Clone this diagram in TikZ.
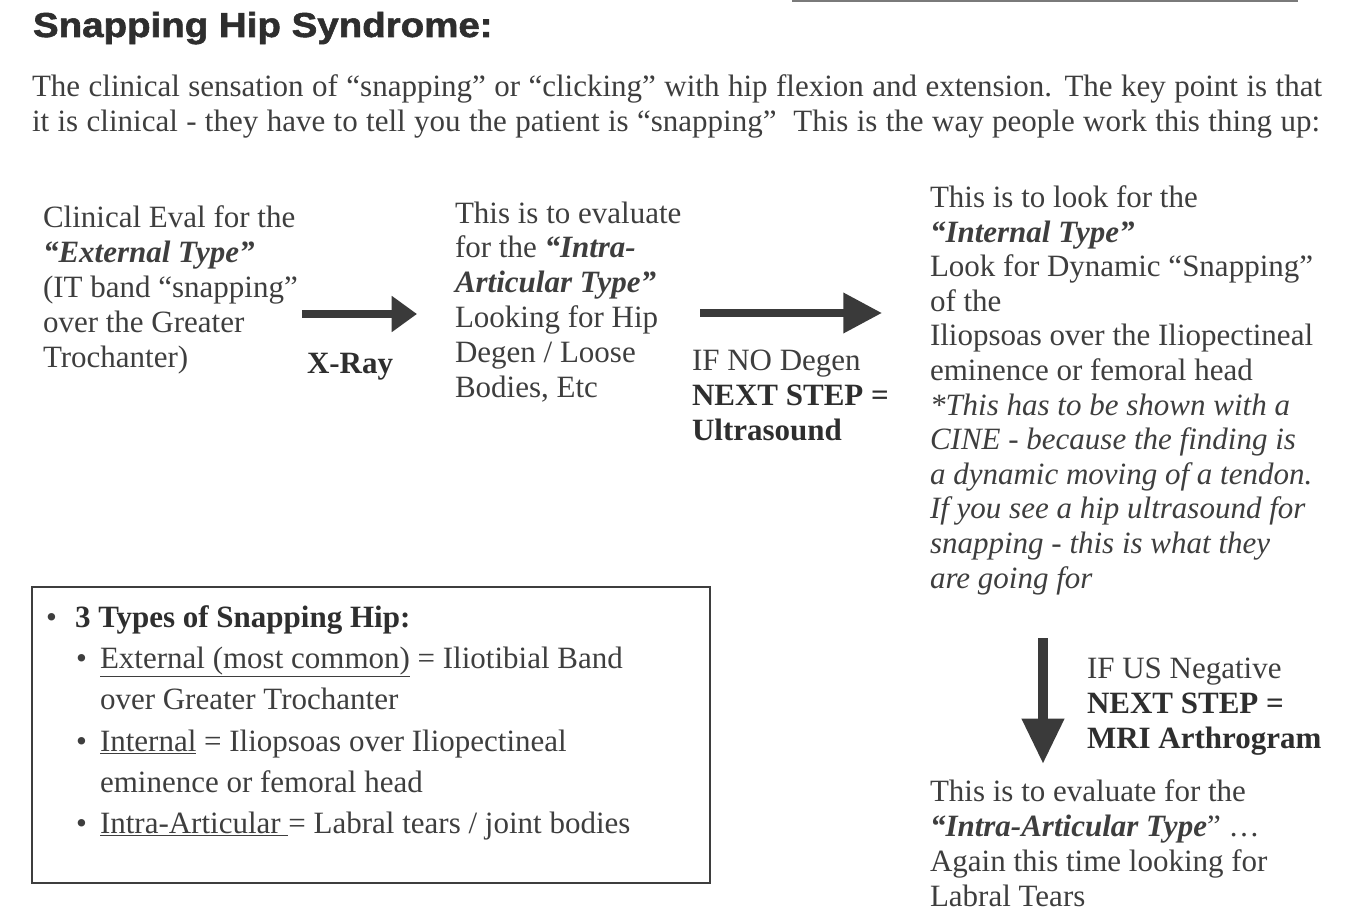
\documentclass[tikz,border=0pt]{standalone}
\usepackage{fontspec}
\setmainfont{Liberation Serif}
\newfontfamily\titlefont[BoldFeatures={FakeBold=1.6}]{Liberation Sans}
\usetikzlibrary{arrows.meta}
\definecolor{ink}{HTML}{3E3E3E}
\definecolor{inkdark}{HTML}{2E2E2E}
\definecolor{arrowgray}{HTML}{3A3A3A}
\definecolor{rulegray}{HTML}{7A7A7A}
\begin{document}
\begin{tikzpicture}[x=0.75pt,y=-0.75pt,
  txt/.style={anchor=base west, inner sep=0pt, outer sep=0pt, align=left, text=ink,
    font=\fontsize{23.25}{26.1}\selectfont},
  boxtxt/.style={txt, font=\fontsize{23.25}{30.75}\selectfont},
  bigarrow/.style={draw=arrowgray, line width=6pt},
  framebox/.style={draw=ink, line width=1.5pt}
]
\useasboundingbox (0,0) rectangle (1353,924);

% top rule (cropped element)
\draw[rulegray, line width=1.2pt] (792,1) -- (1298,1);

% title
\node[txt, text=inkdark, font=\titlefont\bfseries\fontsize{26}{30}\selectfont] (title) at (33,37)
  {\scalebox{1.11}[1]{Snapping Hip Syndrome:}};

% intro paragraph
\node[txt] (p1) at (32,97)
  {\makebox[967.5pt][s]{The clinical sensation of “snapping” or “clicking” with hip flexion and extension. The key point is that}};
\node[txt] (p2) at (32,132)
  {\makebox[966pt][s]{it is clinical - they have to tell you the patient is “snapping”\ \ This is the way people work this thing up:}};

% (multi-line nodes: base anchor sits on the LAST line's baseline)
% block A
\node[txt] (A) at (43,367) {Clinical Eval for the\\
\textbf{\textit{“External Type”}}\\
(IT band “snapping”\\
over the Greater\\
Trochanter)};

% block B
\node[txt] (B) at (455,397) {This is to evaluate\\
for the \textbf{\textit{“Intra-}}\\
\textbf{\textit{Articular Type”}}\\
Looking for Hip\\
Degen / Loose\\
Bodies, Etc};

% block C
\node[txt, font=\fontsize{23.25}{25.95}\selectfont] (C) at (930,588) {This is to look for the\\
\textbf{\textit{“Internal Type”}}\\
Look for Dynamic “Snapping”\\
of the\\
Iliopsoas over the Iliopectineal\\
eminence or femoral head\\
\textit{*This has to be shown with a}\\
\textit{CINE - because the finding is}\\
\textit{a dynamic moving of a tendon.}\\
\textit{If you see a hip ultrasound for}\\
\textit{snapping - this is what they}\\
\textit{are going for}};

% block D
\node[txt] (D) at (930,906) {This is to evaluate for the\\
\textbf{\textit{“Intra-Articular Type}}” …\\
Again this time looking for\\
Labral Tears};

% arrow labels
\node[txt, text=inkdark] (xray) at (307,373) {\textbf{X-Ray}};
\node[txt] (us) at (692,440) {IF NO Degen\\
\textcolor{inkdark}{\textbf{NEXT STEP =}}\\
\textcolor{inkdark}{\textbf{Ultrasound}}};
\node[txt] (mri) at (1087,748) {IF US Negative\\
\textcolor{inkdark}{\textbf{NEXT STEP =}}\\
\textcolor{inkdark}{\textbf{MRI Arthrogram}}};

% arrows
\coordinate (a1s) at (302,314);
\coordinate (a1e) at (417,314);
\coordinate (a2s) at (700,313);
\coordinate (a2e) at (882,313);
\coordinate (a3s) at (1043,638);
\coordinate (a3e) at (1043,764);
\draw[bigarrow, -{Triangle[length=19pt,width=26pt]}] (a1s) -- (a1e);
\draw[bigarrow, -{Triangle[length=29pt,width=29pt]}] (a2s) -- (a2e);
\draw[bigarrow, line width=7.5pt, -{Triangle[length=34pt,width=30pt]}] (a3s) -- (a3e);

% box of types
\node[framebox, minimum width=678*0.75pt, minimum height=296*0.75pt, anchor=north west, inner sep=0pt] (box) at (31,586) {};
\node[txt] (b0) at (46,627) {•};
\node[txt, text=inkdark] (h0) at (75,627) {\textbf{3 Types of Snapping Hip:}};
\node[txt] (b1) at (76,668) {•};
\node[boxtxt] (t1) at (100,709) {\underline{External (most common)} = Iliotibial Band\\over Greater Trochanter};
\node[txt] (b2) at (76,751) {•};
\node[boxtxt] (t2) at (100,792) {\underline{Internal} = Iliopsoas over Iliopectineal\\eminence or femoral head};
\node[txt] (b3) at (76,833) {•};
\node[boxtxt] (t3) at (100,833) {\underline{Intra-Articular\ }= Labral tears / joint bodies};
\end{tikzpicture}
\end{document}
